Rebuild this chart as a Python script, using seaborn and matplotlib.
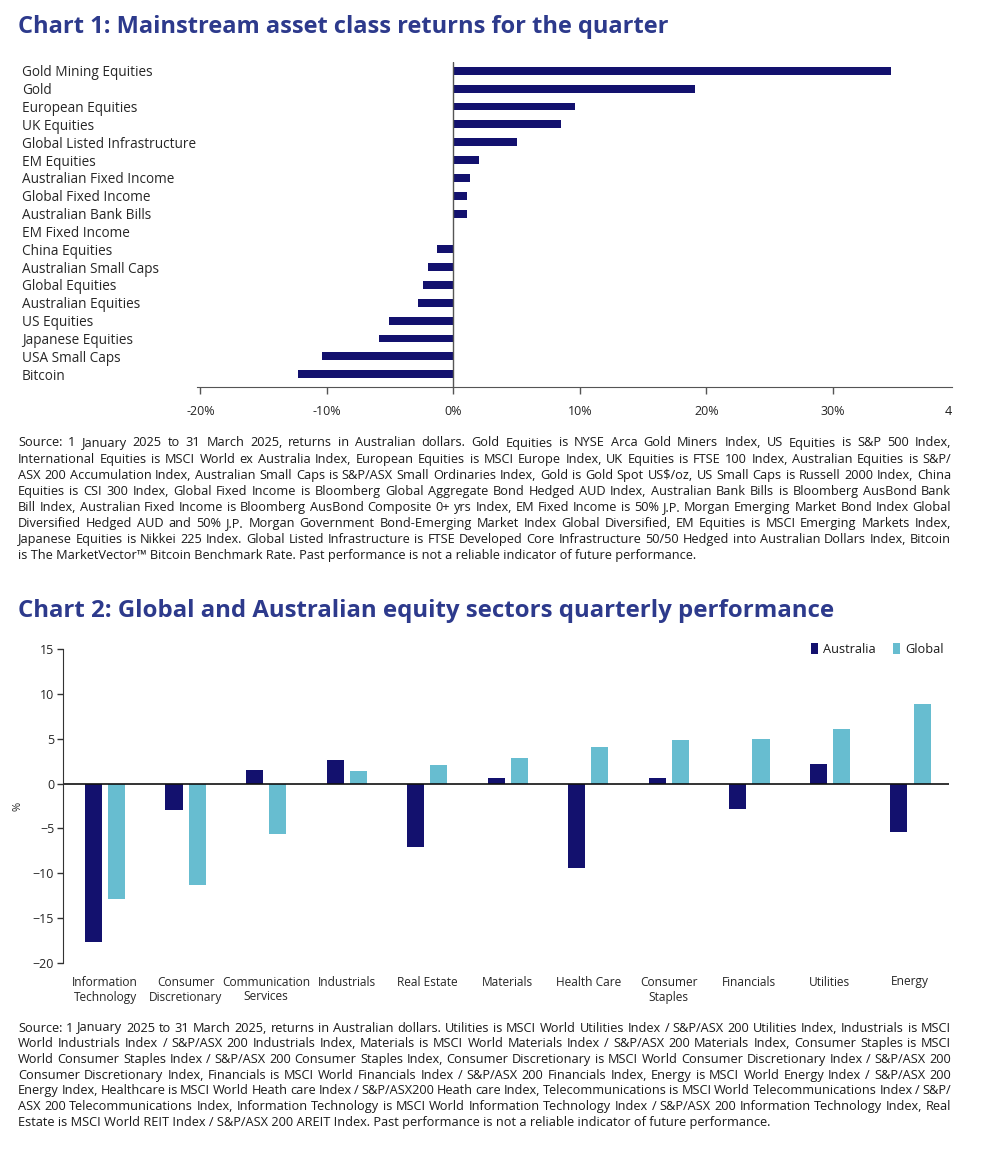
import pandas as pd
import matplotlib.pyplot as plt
import seaborn as sns

navy = "#13116e"
light = "#67bdd0"
title_col = "#2d3a8c"

# chart 1 data
assets = ["Gold Mining Equities", "Gold", "European Equities", "UK Equities",
          "Global Listed Infrastructure", "EM Equities", "Australian Fixed Income",
          "Global Fixed Income", "Australian Bank Bills", "EM Fixed Income",
          "China Equities", "Australian Small Caps", "Global Equities",
          "Australian Equities", "US Equities", "Japanese Equities",
          "USA Small Caps", "Bitcoin"]
asset_returns = [34.6, 19.1, 9.6, 8.5, 5.0, 2.0, 1.3, 1.1, 1.05, 0.0,
                 -1.3, -2.0, -2.4, -2.8, -5.1, -5.9, -10.4, -12.3]
x1_ticks = [-20, -10, 0, 10, 20, 30]
x1_labels = ["-20%", "-10%", "0%", "10%", "20%", "30%"]

# chart 2 data
sectors = ["Information\nTechnology", "Consumer\nDiscretionary", "Communication\nServices",
           "Industrials", "Real Estate", "Materials", "Health Care", "Consumer\nStaples",
           "Financials", "Utilities", "Energy"]
australia = [-17.7, -3.0, 1.5, 2.6, -7.1, 0.66, -9.4, 0.66, -2.8, 2.15, -5.45]
global_ = [-12.9, -11.3, -5.6, 1.42, 2.08, 2.85, 4.1, 4.9, 4.97, 6.1, 8.9]
y2_ticks = [-20, -15, -10, -5, 0, 5, 10, 15]

note1 = [
    "Source: 1 January 2025 to 31 March 2025, returns in Australian dollars. Gold Equities is NYSE Arca Gold Miners Index, US Equities is S&P 500 Index,",
    "International Equities is MSCI World ex Australia Index, European Equities is MSCI Europe Index, UK Equities is FTSE 100 Index, Australian Equities is S&P/",
    "ASX 200 Accumulation Index, Australian Small Caps is S&P/ASX Small Ordinaries Index, Gold is Gold Spot US$/oz, US Small Caps is Russell 2000 Index, China",
    "Equities is CSI 300 Index, Global Fixed Income is Bloomberg Global Aggregate Bond Hedged AUD Index, Australian Bank Bills is Bloomberg AusBond Bank",
    "Bill Index, Australian Fixed Income is Bloomberg AusBond Composite 0+ yrs Index, EM Fixed Income is 50% J.P. Morgan Emerging Market Bond Index Global",
    "Diversified Hedged AUD and 50% J.P. Morgan Government Bond-Emerging Market Index Global Diversified, EM Equities is MSCI Emerging Markets Index,",
    "Japanese Equities is Nikkei 225 Index. Global Listed Infrastructure is FTSE Developed Core Infrastructure 50/50 Hedged into Australian Dollars Index, Bitcoin",
    "is The MarketVector\u2122 Bitcoin Benchmark Rate. Past performance is not a reliable indicator of future performance.",
]
note2 = [
    "Source: 1 January 2025 to 31 March 2025, returns in Australian dollars. Utilities is MSCI World Utilities Index / S&P/ASX 200 Utilities Index, Industrials is MSCI",
    "World Industrials Index / S&P/ASX 200 Industrials Index, Materials is MSCI World Materials Index / S&P/ASX 200 Materials Index, Consumer Staples is MSCI",
    "World Consumer Staples Index / S&P/ASX 200 Consumer Staples Index, Consumer Discretionary is MSCI World Consumer Discretionary Index / S&P/ASX 200",
    "Consumer Discretionary Index, Financials is MSCI World Financials Index / S&P/ASX 200 Financials Index, Energy is MSCI World Energy Index / S&P/ASX 200",
    "Energy Index, Healthcare is MSCI World Heath care Index / S&P/ASX200 Heath care Index, Telecommunications is MSCI World Telecommunications Index / S&P/",
    "ASX 200 Telecommunications Index, Information Technology is MSCI World Information Technology Index / S&P/ASX 200 Information Technology Index, Real",
    "Estate is MSCI World REIT Index / S&P/ASX 200 AREIT Index. Past performance is not a reliable indicator of future performance.",
]

sns.set_style("white")
plt.rcParams["font.family"] = "Open Sans"
plt.rcParams["text.color"] = "#1a1a1a"

W, H = 983, 1152
fig = plt.figure(figsize=(W / 100, H / 100), dpi=100)


def box(l, t, r, b):
    return [l / W, 1 - b / H, (r - l) / W, (b - t) / H]


def justify(lines, x0, x1, y0, dy, size):
    # draw each line word by word so it fills x0..x1 (last line left aligned)
    rend = fig.canvas.get_renderer()
    for i, line in enumerate(lines):
        y = 1 - (y0 + 3.5 + i * dy) / H
        if i == len(lines) - 1:
            fig.text(x0 / W, y, line, fontsize=size, va="baseline")
            continue
        words = line.split(" ")
        txts = [fig.text(0, y, w, fontsize=size, va="baseline") for w in words]
        widths = [t.get_window_extent(rend).width for t in txts]
        sp = (x1 - x0 - sum(widths)) / (len(words) - 1)
        x = x0
        for t, w in zip(txts, widths):
            t.set_x(x / W)
            x += w + sp


# ---- chart 1
fig.text(18 / W, 1 - 27 / H, "Chart 1: Mainstream asset class returns for the quarter",
         fontsize=17, fontweight="bold", color=title_col, va="center")
ax1 = fig.add_axes(box(196.7, 62, 951.7, 387.3))
df1 = pd.DataFrame({"asset": assets, "ret": asset_returns})
sns.barplot(data=df1, x="ret", y="asset", orient="h", color=navy, saturation=1,
            width=0.44, linewidth=0, errorbar=None, ax=ax1)
ax1.set_xlim(-20.3, 39.4)
ax1.set_ylim(len(assets) - 0.27, -0.49)
ax1.axvline(0, color="#555555", lw=1)
for s in ["top", "right", "left"]:
    ax1.spines[s].set_visible(False)
ax1.spines["bottom"].set_color("#555555")
ax1.set_xticks(x1_ticks)
ax1.set_xticklabels(x1_labels)
ax1.tick_params(axis="x", length=5, width=1, color="#555555", pad=8, labelsize=9, bottom=True)
ax1.tick_params(axis="y", length=0, pad=(196.7 - 22) * 0.72, labelsize=9.8)
for lbl in ax1.get_yticklabels():
    lbl.set_ha("left")
ax1.text(39.1, -24.4 / 325, "4", transform=ax1.get_xaxis_transform(), ha="center", va="center", fontsize=9)
ax1.set_xlabel("")
ax1.set_ylabel("")

justify(note1, 18, 951, 443, 16.1, 9.2)

# ---- chart 2
fig.text(18 / W, 1 - 611 / H, "Chart 2: Global and Australian equity sectors quarterly performance",
         fontsize=17.3, fontweight="bold", color=title_col, va="center")
ax2 = fig.add_axes(box(62.5, 649, 949, 963))
df2 = pd.DataFrame({
    "sector": sectors * 2,
    "region": ["Australia"] * len(sectors) + ["Global"] * len(sectors),
    "value": australia + global_,
})
sns.barplot(data=df2, x="sector", y="value", hue="region", palette=[navy, light],
            saturation=1, width=0.58, gap=0.27, linewidth=0, errorbar=None, ax=ax2)
ax2.set_ylim(-20, 15)
ax2.set_xlim(-0.53, len(sectors) - 0.52)
ax2.axhline(0, color="#111111", lw=1.2)
for s in ["top", "right", "bottom"]:
    ax2.spines[s].set_visible(False)
ax2.spines["left"].set_color("#333333")
ax2.set_yticks(y2_ticks)
ax2.tick_params(axis="y", length=4, width=1, color="#333333", pad=2, labelsize=9, left=True)
ax2.tick_params(axis="x", length=0, pad=9, labelsize=8.6)
for lbl in ax2.get_xticklabels():
    lbl.set_va("top")
ax2.set_xlabel("")
ax2.set_ylabel("%", fontsize=8)
ax2.yaxis.set_label_coords(-0.044, 0.5)
ax2.legend(loc="upper right", bbox_to_anchor=(1.0, 1.035), ncol=2, frameon=False,
           fontsize=9.2, handlelength=0.6, handleheight=0.9, handletextpad=0.4,
           columnspacing=1.3, borderaxespad=0)

justify(note2, 18, 951, 1028, 15.7, 9.2)

fig.savefig("out.png", dpi=100)
